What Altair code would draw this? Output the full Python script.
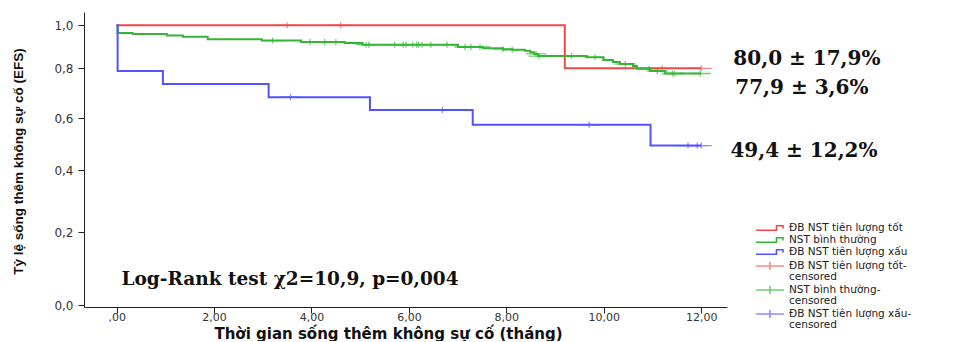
import altair as alt
import pandas as pd

# ---------------- data ----------------
series_names = ["ĐB NST tiên lượng tốt", "NST bình thường", "ĐB NST tiên lượng xấu"]
censor_names = ["ĐB NST tiên lượng tốt-|censored", "NST bình thường-|censored",
                "ĐB NST tiên lượng xấu-|censored"]

red_t = [0.0, 9.20, 12.0]
red_s = [1.0, 0.80, 0.80]
red_cens_t = [3.50, 4.60, 11.20, 12.0]

green_t = [0.0, 0.02, 0.33, 1.03, 1.36, 1.87, 2.98, 3.79, 4.68, 5.05, 7.01, 7.52,
           7.93, 8.12, 8.38, 8.49, 8.57, 8.65, 9.66, 9.99, 10.19, 10.33, 10.60,
           10.68, 10.95, 11.26, 12.0]
green_s = [1.0, 0.964, 0.960, 0.953, 0.947, 0.935, 0.929, 0.922, 0.918, 0.910,
           0.899, 0.893, 0.889, 0.886, 0.882, 0.875, 0.867, 0.857, 0.851, 0.839,
           0.829, 0.820, 0.811, 0.798, 0.789, 0.779, 0.779]
green_cens_t = [3.20, 3.97, 4.27, 4.50, 5.12, 5.18, 5.71, 5.88, 5.94, 6.08, 6.16,
                6.20, 6.27, 6.45, 6.78, 7.15, 7.27, 7.46, 7.93, 8.12, 8.61, 8.67,
                9.34, 9.82, 10.44, 10.93, 11.10, 11.41, 11.45, 11.98]

blue_t = [0.0, 0.02, 0.95, 3.12, 5.20, 7.31, 10.96, 12.0]
blue_s = [1.0, 0.789, 0.737, 0.684, 0.632, 0.574, 0.494, 0.494]
blue_cens_t = [3.57, 6.69, 9.70, 11.73, 11.92, 12.0]

x_ticks = [0, 2, 4, 6, 8, 10, 12]
y_ticks = [0.0, 0.2, 0.4, 0.6, 0.8, 1.0]

annot_text = ["80,0 ± 17,9%", "77,9 ± 3,6%", "49,4 ± 12,2%"]
annot_t = [12.66, 12.70, 12.60]
annot_s = [0.843, 0.721, 0.473]
logrank_text = ["Log-Rank test χ2=10,9, p=0,004"]
logrank_t = [0.10]
logrank_s = [0.071]

# ---------------- tables ----------------
def level(ts, ss, t):
    v = ss[0]
    for a, b in zip(ts, ss):
        if a <= t:
            v = b
    return v

rows = []
for name, ts, ss in zip(series_names, [red_t, green_t, blue_t], [red_s, green_s, blue_s]):
    for a, b in zip(ts, ss):
        rows.append({"series": name, "t": a, "s": b})
df_lines = pd.DataFrame(rows)

rows = []
for name, ts, ss, cs in zip(censor_names, [red_t, green_t, blue_t], [red_s, green_s, blue_s],
                            [red_cens_t, green_cens_t, blue_cens_t]):
    for c in cs:
        rows.append({"series": name, "t": c, "s": level(ts, ss, c)})
df_cens = pd.DataFrame(rows)

df_ann = pd.DataFrame({"t": annot_t, "s": annot_s, "label": annot_text})
df_lr = pd.DataFrame({"t": logrank_t, "s": logrank_s, "label": logrank_text})

# ---------------- scales ----------------
all_names = series_names + censor_names
colors = ["#f04848", "#35b535", "#5252ff", "#f48a8a", "#6fd06f", "#8c8cff"]
step_path = "M-2.8,0.45 L1.3,0.45 L1.3,-0.45 L2.6,-0.45 L2.6,0.1"
cross_path = "M-2.8,0 L2.8,0 M0,-0.8 L0,0.8"
color_scale = alt.Scale(domain=all_names, range=colors)
shape_scale = alt.Scale(domain=all_names, range=[step_path] * 3 + [cross_path] * 3)

x_scale = alt.Scale(domain=[-0.67, 12.53], nice=False, zero=False)
y_scale = alt.Scale(domain=[-0.005, 0.0, 0.2, 0.4, 0.6, 0.8, 1.0, 1.062],
                    range=[295, 293, 220, 158, 106, 56.3, 13.3, 0],
                    nice=False, zero=False)

x_enc = alt.X("t:Q", scale=x_scale,
              axis=alt.Axis(values=x_ticks,
                            labelExpr="datum.value == 0 ? ',00' : replace(format(datum.value, '.2f'), '.', ',')",
                            title="Thời gian sống thêm không sự cố (tháng)",
                            titleFont="DejaVu Sans", titleFontSize=15, titleFontWeight="bold",
                            titleX=304, titleY=26, titleBaseline="middle", titleAlign="center",
                            labelPadding=-2, labelFontSize=11))
y_enc = alt.Y("s:Q", scale=y_scale,
              axis=alt.Axis(values=y_ticks,
                            labelExpr="replace(format(datum.value, '.1f'), '.', ',')",
                            title="Tỷ lệ sống thêm không sự cố (EFS)",
                            titleFont="Liberation Sans",
                            titleFontSize=13.5, titleFontWeight="bold",
                            titleAngle=270, titleX=-59, titleY=149,
                            titleBaseline="bottom", titleAlign="center",
                            labelPadding=5))

legend = alt.Legend(title=None, orient="none", legendX=680, legendY=210,
                    labelExpr="split(datum.label, '|')")

cens = alt.Chart(df_cens).mark_point(filled=False, size=56, strokeWidth=1.3, opacity=1).encode(
    x=x_enc, y=y_enc,
    color=alt.Color("series:N", scale=color_scale, legend=legend),
    shape=alt.Shape("series:N", scale=shape_scale, legend=legend),
)

lines = alt.Chart(df_lines).mark_line(interpolate="step-after", strokeWidth=2).encode(
    x=x_enc, y=y_enc,
    color=alt.Color("series:N", scale=color_scale, legend=legend),
)

ann = alt.Chart(df_ann).mark_text(font="DejaVu Serif", fontWeight="bold", fontSize=20,
                                  align="left", baseline="middle", color="#111").encode(
    x=x_enc, y=y_enc, text="label:N")

lr = alt.Chart(df_lr).mark_text(font="DejaVu Serif", fontWeight="bold", fontSize=18.5,
                                align="left", baseline="middle", color="#111").encode(
    x=x_enc, y=y_enc, text="label:N")

chart = alt.layer(cens, lines, ann, lr).properties(
    width=643, height=295,
    autosize=alt.AutoSizeParams(type="none"),
    padding={"left": 76, "top": 4, "right": 230, "bottom": 34},
).configure(
    style={"guide-label": {"lineHeight": 10.5}}
).configure_view(stroke=None).configure_axis(
    grid=False, domainColor="#222", tickColor="#222", tickSize=6,
    labelFont="DejaVu Sans", labelFontSize=12, labelColor="#333", titleColor="#111",
).configure_legend(
    labelFont="DejaVu Sans", labelFontSize=10.5, labelColor="#222",
    symbolSize=100, symbolStrokeWidth=1.6, rowPadding=0, labelOffset=13,
    padding=0, symbolFillColor="transparent", labelLimit=300,
)

chart.save("out.html", embed_options={"renderer": "svg", "actions": False})
